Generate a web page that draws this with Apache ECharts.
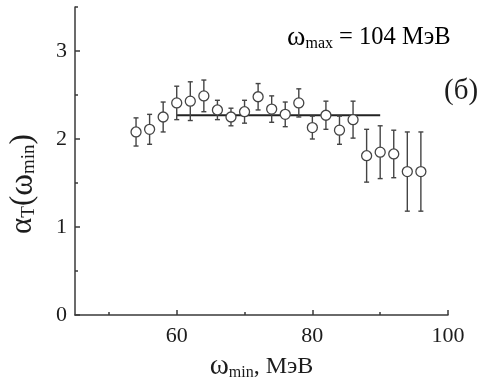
<!DOCTYPE html>
<html>
<head>
<meta charset="utf-8">
<script src="https://cdn.jsdelivr.net/npm/echarts@6/dist/echarts.min.js"></script>
<style>
  html, body { margin: 0; padding: 0; background: #fff; }
  #chart { width: 487px; height: 378px; }
</style>
</head>
<body>
<div id="chart"></div>
<script>
// Lower integration limit ω_min, МэВ
const omegaMin = [54, 56, 58, 60, 62, 64, 66, 68, 70, 72, 74, 76, 78, 80, 82, 84, 86, 88, 90, 92, 94, 96];
// α_T(ω_min) values
const alphaT = [2.08, 2.11, 2.25, 2.41, 2.43, 2.49, 2.33, 2.25, 2.31, 2.48, 2.34, 2.28, 2.41, 2.13, 2.27, 2.10, 2.22, 1.81, 1.85, 1.83, 1.63, 1.63];
// symmetric errors
const alphaErr = [0.16, 0.17, 0.17, 0.19, 0.22, 0.18, 0.11, 0.10, 0.13, 0.15, 0.15, 0.14, 0.16, 0.13, 0.16, 0.16, 0.21, 0.30, 0.30, 0.27, 0.45, 0.45];
// constant fit over 60–90 МэВ
const fitRange = [60, 90];
const fitLevel = 2.27;
// tick positions
const xMajorTicks = [60, 80, 100];
const xMinorTicks = [50, 70, 90];
const yMajorTicks = [0, 1, 2, 3];
const yMinorTicks = [0.5, 1.5, 2.5, 3.5];

const FONT = "'Liberation Serif', 'DejaVu Serif', serif";
const INK = '#1c1c1c';
const AXIS = '#3a3a3a';

const errData = omegaMin.map((x, i) => [x, alphaT[i] - alphaErr[i], alphaT[i] + alphaErr[i]]);
const pointData = omegaMin.map((x, i) => [x, alphaT[i]]);
const fitData = fitRange.map(x => [x, fitLevel]);

const chart = echarts.init(document.getElementById('chart'), null, { renderer: 'canvas' });

// rich styles for labels with subscripts
const t = (size, lh, extra) => Object.assign({ fontFamily: FONT, fontSize: size, color: INK, lineHeight: lh }, extra || {});
const sub = (size, lh) => t(size, lh, { verticalAlign: 'bottom' });

chart.setOption({
  animation: false,
  backgroundColor: '#fff',
  grid: { left: 75, top: 7, right: 39, bottom: 63, containLabel: false, outerBoundsMode: 'none' },
  xAxis: [
    {
      type: 'value', min: 45, max: 100, position: 'bottom',
      axisLine: { show: true, lineStyle: { color: AXIS, width: 1.5 } },
      axisTick: { show: true, inside: true, length: 5, customValues: xMajorTicks, lineStyle: { color: AXIS, width: 1.5 } },
      axisLabel: { show: true, customValues: xMajorTicks, margin: 10, fontFamily: FONT, fontSize: 22, color: INK },
      splitLine: { show: false },
      name: '{w|ω}{s|min}{a|, МэВ}',
      nameLocation: 'middle', nameGap: 30,
      nameTextStyle: { rich: { w: t(29, 28), a: t(24, 28), s: sub(16, 12) } }
    },
    {
      type: 'value', min: 45, max: 100, position: 'bottom',
      axisLine: { show: false },
      axisTick: { show: true, inside: true, length: 3, customValues: xMinorTicks, lineStyle: { color: AXIS, width: 1.5 } },
      axisLabel: { show: false },
      splitLine: { show: false }
    }
  ],
  yAxis: [
    {
      type: 'value', min: 0, max: 3.5, position: 'left',
      axisLine: { show: true, lineStyle: { color: AXIS, width: 1.5 } },
      axisTick: { show: true, inside: true, length: 5, customValues: yMajorTicks, lineStyle: { color: AXIS, width: 1.5 } },
      axisLabel: { show: true, customValues: yMajorTicks, margin: 8, fontFamily: FONT, fontSize: 22, color: INK },
      splitLine: { show: false },
      name: '{g|α}{s|T}{g|(}{w|ω}{s|min}{g|)}',
      nameLocation: 'middle', nameGap: 36, nameRotate: 90,
      nameTextStyle: {
        padding: [0, 46, 0, 0],
        rich: { g: t(31, 32), w: t(33, 32), s: sub(19, 13) }
      }
    },
    {
      type: 'value', min: 0, max: 3.5, position: 'left',
      axisLine: { show: false },
      axisTick: { show: true, inside: true, length: 3, customValues: yMinorTicks, lineStyle: { color: AXIS, width: 1.5 } },
      axisLabel: { show: false },
      splitLine: { show: false }
    }
  ],
  graphic: [
    {
      type: 'text', left: 287, top: 24,
      style: {
        text: '{w|ω}{s|max}{a| = 104 МэВ}',
        rich: { w: t(28, 28), a: t(24.5, 28), s: sub(16, 11) }
      }
    },
    {
      type: 'text', left: 444, top: 77,
      style: { text: '(б)', fontFamily: FONT, fontSize: 29, fill: INK }
    }
  ],
  series: [
    {
      type: 'line', xAxisIndex: 0, yAxisIndex: 0, data: fitData,
      symbol: 'none', z: 2,
      lineStyle: { color: '#222', width: 1.8 }
    },
    {
      type: 'custom', xAxisIndex: 0, yAxisIndex: 0, data: errData, z: 3,
      renderItem(params, api) {
        const x = api.value(0);
        const lo = api.coord([x, api.value(1)]);
        const hi = api.coord([x, api.value(2)]);
        const cap = 2.5;
        const st = { stroke: '#444', lineWidth: 1.4 };
        return {
          type: 'group',
          children: [
            { type: 'line', shape: { x1: lo[0], y1: lo[1], x2: hi[0], y2: hi[1] }, style: st },
            { type: 'line', shape: { x1: lo[0] - cap, y1: lo[1], x2: lo[0] + cap, y2: lo[1] }, style: st },
            { type: 'line', shape: { x1: hi[0] - cap, y1: hi[1], x2: hi[0] + cap, y2: hi[1] }, style: st }
          ]
        };
      }
    },
    {
      type: 'scatter', xAxisIndex: 0, yAxisIndex: 0, data: pointData, z: 4,
      symbol: 'circle', symbolSize: 10,
      itemStyle: { color: '#fff', borderColor: '#444', borderWidth: 1.3, opacity: 1 }
    }
  ]
});
</script>
</body>
</html>
